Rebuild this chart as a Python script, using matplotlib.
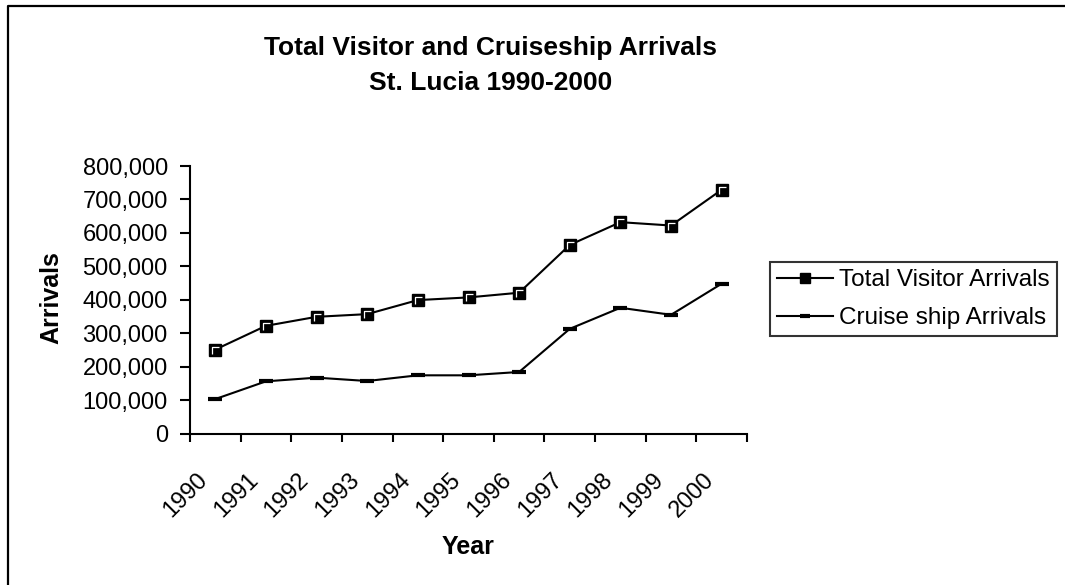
import matplotlib
matplotlib.use("Agg")
import matplotlib.pyplot as plt
import matplotlib.transforms as mtransforms
from matplotlib.lines import Line2D
from matplotlib.ticker import FuncFormatter, FixedLocator

# data
years = ['1990', '1991', '1992', '1993', '1994', '1995', '1996', '1997', '1998', '1999', '2000']
total_visitors = [251000, 322000, 349000, 357000, 399000, 407000, 421000, 564000, 632000, 622000, 729000]
cruise_ship = [103000, 156000, 167000, 157000, 174000, 174000, 184000, 313000, 376000, 355000, 448000]
y_ticks = [0, 100000, 200000, 300000, 400000, 500000, 600000, 700000, 800000]

plt.rcParams['font.family'] = ['Liberation Sans', 'DejaVu Sans']

W, H = 1065, 585
fig = plt.figure(figsize=(W / 100, H / 100), dpi=100)
ax = fig.add_axes([190 / W, 1 - 433.5 / H, 557 / W, 267.5 / H])

x = list(range(len(years)))

# Total visitors: black squares with a white highlight on top-left
line_total, = ax.plot(x, total_visitors, color='black', lw=1.5, marker='s', ms=9,
                      mfc='black', mec='black', label='Total Visitor Arrivals')
highlight = [(-0.5, -0.7), (-0.5, 0.5), (0.7, 0.5)]
ax.plot(x, total_visitors, ls='none', marker=highlight, ms=6, mfc='none', mec='white', mew=0.9)

line_cruise, = ax.plot(x, cruise_ship, color='black', lw=1.5, marker='_', ms=10, mew=3,
                       label='Cruise ship Arrivals')

# axes
ax.set_xlim(-0.5, len(years) - 0.5)
ax.set_ylim(0, 800000)
ax.spines['top'].set_visible(False)
ax.spines['right'].set_visible(False)
ax.spines['left'].set_linewidth(1.5)
ax.spines['bottom'].set_linewidth(1.5)

ax.yaxis.set_major_locator(FixedLocator(y_ticks))
ax.yaxis.set_major_formatter(FuncFormatter(lambda v, p: f'{int(v):,}'))
ax.tick_params(axis='y', direction='out', length=7, width=1.5, pad=9, labelsize=17)

# ticks between categories, labels on category centres
ax.xaxis.set_major_locator(FixedLocator([i - 0.5 for i in range(len(years) + 1)]))
ax.xaxis.set_major_formatter(FuncFormatter(lambda v, p: ''))
ax.xaxis.set_minor_locator(FixedLocator(x))
ax.set_xticks(x, years, minor=True)
ax.tick_params(axis='x', which='major', direction='out', length=6, width=1.5)
ax.tick_params(axis='x', which='minor', length=0, pad=31, labelsize=17)
shift = mtransforms.ScaledTranslation(-11 / 100, 0, fig.dpi_scale_trans)
for lbl in ax.xaxis.get_ticklabels(minor=True):
    lbl.set_rotation(45)
    lbl.set_rotation_mode('anchor')
    lbl.set_ha('right')
    lbl.set_va('center')
    lbl.set_transform(lbl.get_transform() + shift)

ax.set_ylabel('Arrivals', fontsize=18, fontweight='bold', va='center')
ax.yaxis.set_label_coords(-0.248, 0.507)
ax.set_xlabel('Year', fontsize=18, fontweight='bold', va='center')
ax.xaxis.set_label_coords(0.5, -0.424)

# title
fig.text(491 / W, 1 - 48 / H, 'Total Visitor and Cruiseship Arrivals', fontsize=19,
         fontweight='bold', ha='center', va='center')
fig.text(491 / W, 1 - 83 / H, 'St. Lucia 1990-2000', fontsize=19,
         fontweight='bold', ha='center', va='center')

leg = fig.legend(handles=[line_total, line_cruise], loc='upper left',
                 bbox_to_anchor=(770 / W, 1 - 262 / H), bbox_transform=fig.transFigure,
                 fontsize=17.5, frameon=True, fancybox=False, borderaxespad=0,
                 handlelength=2.3, handletextpad=0.25, labelspacing=0.65,
                 borderpad=0.3, markerscale=0.75)
leg.get_frame().set_edgecolor('black')
leg.get_frame().set_linewidth(1.5)

# outer chart border (only left and top visible in the crop)
fig.add_artist(Line2D([8 / W, 8 / W, 1.0], [0, 1 - 6 / H, 1 - 6 / H],
                      transform=fig.transFigure, color='black', lw=1.6))

fig.savefig('out.png', dpi=100)
